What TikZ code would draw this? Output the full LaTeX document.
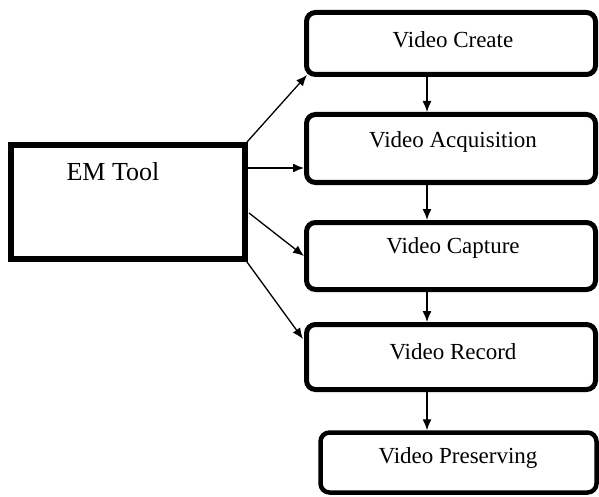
\documentclass[tikz,border=0pt]{standalone}
\usepackage{fontspec}
\setmainfont{Liberation Serif}
\usetikzlibrary{arrows.meta,shadows}
\begin{document}
\begin{tikzpicture}[x=1pt,y=-1pt,
  stage/.style={draw, line width=5pt, rounded corners=9pt, minimum width=289pt, inner sep=0pt},
  toolbox/.style={draw, line width=6pt, fill=white, minimum width=234pt, minimum height=114pt, inner sep=0pt,
    drop shadow={shadow xshift=1.5pt, shadow yshift=-2pt, fill=black!45, opacity=0.6}},
  lbl/.style={inner sep=0pt, font=\fontsize{23}{27}\selectfont},
  arr/.style={line width=1.3pt, -{Latex[length=11pt,width=9pt]}}
]
\useasboundingbox (0,0) rectangle (599,497);

% source block
\node[toolbox] (em) at (128,202) {};
\node[lbl, font=\fontsize{26}{30}\selectfont] (emlbl) at (113,172) {EM Tool};

% processing stages
\node[stage, minimum height=62pt] (create) at (451,43.5) {};
\node[stage, minimum height=68pt] (acq) at (451,148.5) {};
\node[stage, minimum height=67pt] (capture) at (451,256) {};
\node[stage, minimum height=65pt] (record) at (451,357) {};
\node[stage, line width=4.5pt, minimum width=276pt, minimum height=60pt] (preserve) at (458.5,462.5) {};

\node[lbl] (createlbl) at (453,40) {Video Create};
\node[lbl] (acqlbl) at (453,142) {Video Acquisition};
\node[lbl] (capturelbl) at (453,248) {Video Capture};
\node[lbl] (recordlbl) at (453,352) {Video Record};
\node[lbl] (preservelbl) at (458,458) {Video Preserving};

% chain of stages
\draw[arr] (427,0 |- create.south) -- (427,0 |- acq.north);
\draw[arr] (427,0 |- acq.south) -- (427,0 |- capture.north);
\draw[arr] (427,0 |- capture.south) -- (427,0 |- record.north);
\draw[arr] (427,0 |- record.south) -- (427,0 |- preserve.north);

% fan-out from the tool (y grows downward here)
\draw[arr] ([shift={(-1,0)}]em.north east) -- ([shift={(3,-2)}]create.south west);
\draw[arr] ([shift={(0,26)}]em.north east) -- (acq.west |- 0,168);
\draw[arr] ([shift={(1,71)}]em.north east) -- ([shift={(0,36)}]capture.north west);
\draw[arr] ([shift={(-1,0)}]em.south east) -- ([shift={(-1,17)}]record.north west);
\end{tikzpicture}
\end{document}
